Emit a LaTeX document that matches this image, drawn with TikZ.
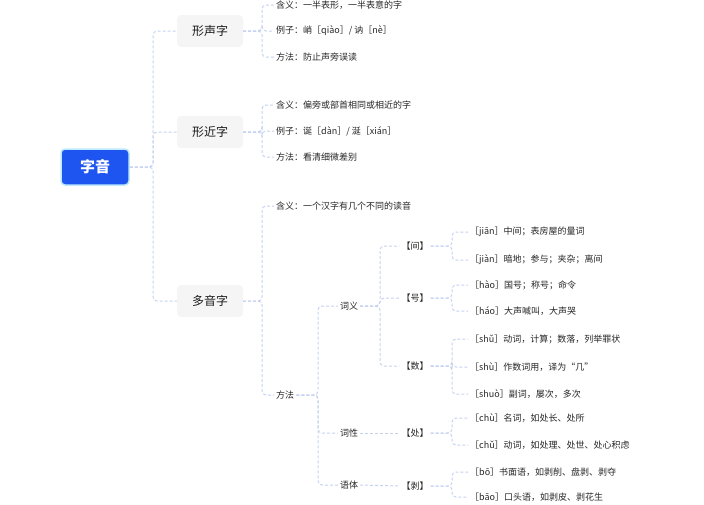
\documentclass[tikz,border=0pt]{standalone}
\usepackage{fontspec}
\setmainfont{Noto Sans CJK SC}
\definecolor{rootblue}{RGB}{30,84,240}
\definecolor{connc}{RGB}{196,210,240}
\begin{document}
\begin{tikzpicture}[x=1pt,y=-1pt,
  conn/.style={draw=connc, line width=1pt, dash pattern=on 3pt off 2pt, rounded corners=4pt},
  rootbox/.style={fill=rootblue, draw=cyan!25, line width=1.5pt, rounded corners=4pt, text=white, minimum width=68pt, minimum height=36pt, font=\fontsize{15}{15}\selectfont\bfseries},
  lone/.style={fill=gray!8, rounded corners=4pt, minimum width=66pt, minimum height=32pt, font=\fontsize{12}{12}\selectfont, text=black!90},
  leaf/.style={anchor=west, inner sep=2pt, font=\fontsize{9}{9}\selectfont, text=black!85},
  mid/.style={inner sep=2pt, font=\fontsize{9}{9}\selectfont, text=black!85}]
\useasboundingbox (0,0) rectangle (704,504);
\node[rootbox] (r) at (95,167) {字音};
\node[lone] (a) at (210,31) {形声字};
\node[lone] (b) at (210,132) {形近字};
\node[lone] (c) at (210,301) {多音字};
\coordinate (t0) at (153,0);
\foreach \n in {a,b,c} \draw[conn] (r.east) -- (r.east -| t0) |- (\n.west);
\coordinate (t1) at (262,0);
\node[leaf] (a1) at (274,5) {含义：一半表形，一半表意的字};
\node[leaf] (a2) at (274,31) {例子：峭［qiào］/ 讷［nè］};
\node[leaf] (a3) at (274,57) {方法：防止声旁误读};
\node[leaf] (b1) at (274,105) {含义：偏旁或部首相同或相近的字};
\node[leaf] (b2) at (274,131) {例子：诞［dàn］/ 涎［xián］};
\node[leaf] (b3) at (274,157) {方法：看清细微差别};
\node[leaf] (c1) at (274,206) {含义：一个汉字有几个不同的读音};
\node[leaf] (c2) at (274,395) {方法};
\foreach \p/\l in {a/{a1,a2,a3},b/{b1,b2,b3},c/{c1,c2}}
  \foreach \n in \l \draw[conn] (\p.east) -- (\p.east -| t1) |- (\n.west);
\coordinate (t2) at (318,0);
\node[mid] (d1) at (349,306) {词义};
\node[mid] (d2) at (349,433) {词性};
\node[mid] (d3) at (349,485) {语体};
\foreach \n in {d1,d2,d3} \draw[conn] (c2.east) -- (c2.east -| t2) |- (\n.west);
\coordinate (t3) at (380,0);
\node[mid] (e1) at (415,246) {【间】};
\node[mid] (e2) at (415,298) {【号】};
\node[mid] (e3) at (415,366) {【数】};
\node[mid] (e4) at (415,433) {【处】};
\node[mid] (e5) at (415,486) {【剥】};
\foreach \n in {e1,e2,e3} \draw[conn] (d1.east) -- (d1.east -| t3) |- (\n.west);
\draw[conn] (d2.east) -- (e4.west);
\draw[conn] (d3.east) -- (e5.west);
\coordinate (t4) at (452,0);
\node[leaf] (f1) at (468,232) {［jiān］中间；表房屋的量词};
\node[leaf] (f2) at (468,260) {［jiàn］暗地；参与；夹杂；离间};
\node[leaf] (f3) at (468,285) {［hào］国号；称号；命令};
\node[leaf] (f4) at (468,311) {［háo］大声喊叫，大声哭};
\node[leaf] (f5) at (468,339) {［shǔ］动词，计算；数落，列举罪状};
\node[leaf] (f6) at (468,367) {［shù］作数词用，译为“几”};
\node[leaf] (f7) at (468,394) {［shuò］副词，屡次，多次};
\node[leaf] (f8) at (468,418) {［chù］名词，如处长、处所};
\node[leaf] (f9) at (468,445) {［chǔ］动词，如处理、处世、处心积虑};
\node[leaf] (f10) at (468,472) {［bō］书面语，如剥削、盘剥、剥夺};
\node[leaf] (f11) at (468,497) {［bāo］口头语，如剥皮、剥花生};
\foreach \p/\l in {e1/{f1,f2},e2/{f3,f4},e3/{f5,f6,f7},e4/{f8,f9},e5/{f10,f11}}
  \foreach \n in \l \draw[conn] (\p.east) -- (\p.east -| t4) |- (\n.west);
\end{tikzpicture}
\end{document}
